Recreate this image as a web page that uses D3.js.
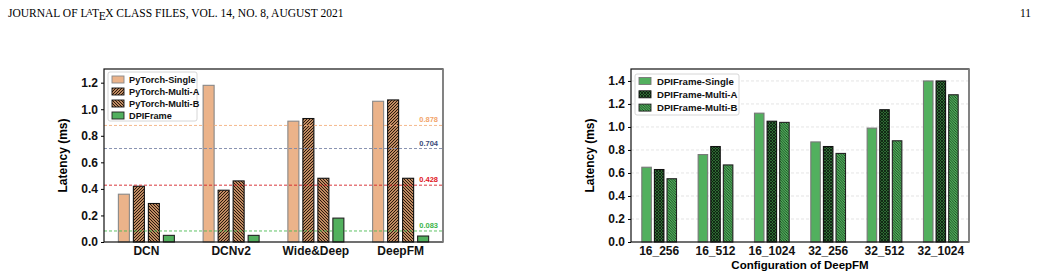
<!DOCTYPE html>
<html>
<head>
<meta charset="utf-8">
<script src="https://cdn.jsdelivr.net/npm/d3@7"></script>
<style>
  body { margin: 0; background: #fff; }
  svg { display: block; }
  .tick text { font-family: "Liberation Sans", Arial, sans-serif; font-weight: bold; }
</style>
</head>
<body>
<div id="chart"></div>
<script>
// left chart: models
const models = ["DCN", "DCNv2", "Wide&Deep", "DeepFM"];
const leftSeries = ["PyTorch-Single", "PyTorch-Multi-A", "PyTorch-Multi-B", "DPIFrame"];
const pytorchSingle = [0.36, 1.18, 0.91, 1.06];
const pytorchMultiA = [0.42, 0.39, 0.93, 1.07];
const pytorchMultiB = [0.29, 0.46, 0.48, 0.48];
const dpiFrame = [0.05, 0.05, 0.18, 0.045];
const refValues = [0.878, 0.704, 0.428, 0.083];
const leftTicks = [0, 0.2, 0.4, 0.6, 0.8, 1.0, 1.2];

// right chart: configurations
const configs = ["16_256", "16_512", "16_1024", "32_256", "32_512", "32_1024"];
const rightSeries = ["DPIFrame-Single", "DPIFrame-Multi-A", "DPIFrame-Multi-B"];
const dpiSingle = [0.65, 0.76, 1.12, 0.87, 0.99, 1.40];
const dpiMultiA = [0.63, 0.83, 1.05, 0.83, 1.15, 1.40];
const dpiMultiB = [0.55, 0.67, 1.04, 0.77, 0.88, 1.28];
const rightTicks = [0, 0.2, 0.4, 0.6, 0.8, 1.0, 1.2, 1.4];

const W = 1040, H = 275;
const font = '"Liberation Sans", Arial, sans-serif';
const serif = '"Liberation Serif", "Times New Roman", serif';

const svg = d3.select("#chart").append("svg")
  .attr("width", W).attr("height", H);

// page header
const head = svg.append("text")
  .attr("x", 8).attr("y", 17)
  .attr("font-family", serif)
  .attr("font-size", 11.5).attr("fill", "#000");
head.append("tspan").text("JOURNAL OF L");
head.append("tspan").attr("font-size", 8.5).attr("dy", -2.5).attr("dx", -1).text("A");
head.append("tspan").attr("dy", 2.5).attr("dx", -0.5).text("T");
head.append("tspan").attr("dy", 3).attr("dx", -0.5).text("E");
head.append("tspan").attr("dy", -3).attr("dx", -0.5).text("X CLASS FILES, VOL. 14, NO. 8, AUGUST 2021");
svg.append("text")
  .attr("x", 1031).attr("y", 17).attr("text-anchor", "end")
  .attr("font-family", serif)
  .attr("font-size", 11.5).text("11");

// hatch patterns
const defs = svg.append("defs");
function hatch(id, bg, fg, kind, size, sw) {
  const p = defs.append("pattern").attr("id", id)
    .attr("patternUnits", "userSpaceOnUse")
    .attr("width", size).attr("height", size);
  p.append("rect").attr("width", size).attr("height", size).attr("fill", bg);
  const dirs = kind === "x" ? ["/", "\\"] : [kind];
  dirs.forEach(k => {
    const d = k === "/"
      ? `M0,${size} L${size},0 M${-size / 2},${size / 2} L${size / 2},${-size / 2} M${size / 2},${size * 1.5} L${size * 1.5},${size / 2}`
      : `M0,0 L${size},${size} M${-size / 2},${size / 2} L${size / 2},${size * 1.5} M${size / 2},${-size / 2} L${size * 1.5},${size / 2}`;
    p.append("path").attr("d", d).attr("stroke", fg).attr("stroke-width", sw);
  });
}
hatch("hA", "#c08b62", "#2a180c", "/", 3, 1);
hatch("hB", "#c08b62", "#2a180c", "\\", 3, 1);
hatch("gA", "#2f6b34", "#0a1a0c", "x", 3, 0.8);
hatch("gB", "#4fae5a", "#15351a", "\\", 2.6, 0.8);

const leftFills = ["#ebb38a", "url(#hA)", "url(#hB)", "#52b05e"];
const leftStrokes = ["#888", "#111", "#111", "#222"];
const rightFills = ["#52b05e", "url(#gA)", "url(#gB)"];
const rightStrokes = ["#777", "#111", "#222"];

function drawPanel(opts) {
  const { x0, x1, y0, y1, ymax, cats, series, values, fills, strokes, ticks,
          barW, stride, grid, xlabel } = opts;
  const g = svg.append("g");
  const x = d3.scaleBand().domain(cats).range([x0, x1]).padding(0);
  const y = d3.scaleLinear().domain([0, ymax]).range([y1, y0]);
  const inner = d3.scaleBand().domain(series)
    .range([-stride * series.length / 2, stride * series.length / 2]);

  if (grid) {
    g.append("g").selectAll("line").data(ticks.slice(1)).join("line")
      .attr("x1", x0).attr("x2", x1)
      .attr("y1", d => y(d)).attr("y2", d => y(d))
      .attr("stroke", "#ddd").attr("stroke-width", 0.8)
      .attr("stroke-dasharray", "3,2");
  }

  series.forEach((s, si) => {
    g.append("g").selectAll("rect").data(values[si]).join("rect")
      .attr("x", (d, i) => x(cats[i]) + x.bandwidth() / 2 + inner(s) + (stride - barW) / 2)
      .attr("y", d => y(d))
      .attr("width", barW)
      .attr("height", d => y1 - y(d))
      .attr("fill", fills[si])
      .attr("stroke", strokes[si]).attr("stroke-width", 1.1);
  });

  if (opts.refs) opts.refs(g, x, y);

  // frame
  g.append("rect").attr("x", x0).attr("y", y0)
    .attr("width", x1 - x0).attr("height", y1 - y0)
    .attr("fill", "none").attr("stroke", "#111").attr("stroke-width", 1.2);
  g.append("line").attr("x1", x1).attr("x2", x1).attr("y1", y0).attr("y2", y1)
    .attr("stroke", "#888").attr("stroke-width", 1.6);

  const ya = g.append("g").attr("transform", `translate(${x0},0)`)
    .call(d3.axisLeft(y).tickValues(ticks).tickFormat(d3.format(".1f")).tickSize(3));
  ya.select(".domain").remove();
  ya.selectAll("text").attr("font-size", 12).attr("fill", "#111");

  const xa = g.append("g").attr("transform", `translate(0,${y1})`)
    .call(d3.axisBottom(x).tickSize(0).tickPadding(4));
  xa.select(".domain").remove();
  xa.selectAll("text").attr("font-size", 12).attr("fill", "#111");

  g.append("text")
    .attr("transform", `translate(${x0 - 37},${(y0 + y1) / 2}) rotate(-90)`)
    .attr("text-anchor", "middle")
    .attr("font-family", font).attr("font-weight", "bold").attr("font-size", 12)
    .text("Latency (ms)");
  if (xlabel) {
    g.append("text")
      .attr("x", (x0 + x1) / 2).attr("y", y1 + 27)
      .attr("text-anchor", "middle")
      .attr("font-family", font).attr("font-weight", "bold").attr("font-size", 11.5)
      .text(xlabel);
  }

  // legend
  const L = opts.legend;
  const lg = g.append("g");
  lg.append("rect").attr("x", L.x).attr("y", L.y).attr("width", L.w).attr("height", L.h)
    .attr("rx", 2).attr("fill", "#fff").attr("fill-opacity", 0.85)
    .attr("stroke", "#ccc").attr("stroke-width", 0.8);
  series.forEach((s, i) => {
    const yy = L.y + L.top + i * L.step;
    lg.append("rect").attr("x", L.x + 4).attr("y", yy - 4).attr("width", 12).attr("height", 7)
      .attr("fill", fills[i]).attr("stroke", strokes[i]).attr("stroke-width", 0.9);
    lg.append("text").attr("x", L.x + L.tx).attr("y", yy + 3.2)
      .attr("font-family", font).attr("font-weight", "bold").attr("font-size", L.fs)
      .attr("fill", "#111").text(s);
  });
}

const refColors = ["#f2a46a", "#3b4a7a", "#e0141c", "#3db54a"];
const refLineColors = ["#f4b07f", "#7a86a8", "#d42026", "#4cbb55"];

drawPanel({
  x0: 104, x1: 443, y0: 69, y1: 242, ymax: 1.303,
  cats: models, series: leftSeries,
  values: [pytorchSingle, pytorchMultiA, pytorchMultiB, dpiFrame],
  fills: leftFills, strokes: leftStrokes, ticks: leftTicks,
  barW: 11, stride: 15, grid: false,
  legend: { x: 108, y: 72, w: 89, h: 49, top: 8, step: 12, tx: 21, fs: 9.2 },
  refs: (g, x, y) => {
    refValues.forEach((v, i) => {
      g.append("line").attr("x1", 104).attr("x2", 443)
        .attr("y1", y(v)).attr("y2", y(v))
        .attr("stroke", refLineColors[i]).attr("stroke-width", 0.9)
        .attr("stroke-dasharray", "3,2");
      g.append("text").attr("x", 438).attr("y", y(v) - 3)
        .attr("text-anchor", "end")
        .attr("font-family", font).attr("font-weight", "bold").attr("font-size", 7.5)
        .attr("fill", refColors[i]).text(d3.format(".3f")(v));
    });
  }
});

drawPanel({
  x0: 631, x1: 969, y0: 69, y1: 242, ymax: 1.504,
  cats: configs, series: rightSeries,
  values: [dpiSingle, dpiMultiA, dpiMultiB],
  fills: rightFills, strokes: rightStrokes, ticks: rightTicks,
  barW: 9.5, stride: 12.6, grid: true,
  xlabel: "Configuration of DeepFM",
  legend: { x: 635, y: 74, w: 104, h: 41, top: 7.5, step: 13.3, tx: 22, fs: 9.6 }
});
</script>
</body>
</html>
